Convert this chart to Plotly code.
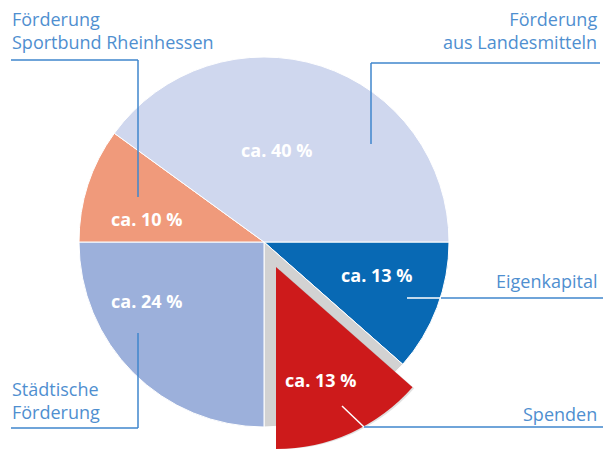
import plotly.graph_objects as go

# ---- data ----
categories = ["Eigenkapital", "Spenden", "Städtische Förderung",
              "Förderung Sportbund Rheinhessen", "Förderung aus Landesmitteln"]
shares = [11.5, 13.5, 25, 10, 40]          # slice sizes (%)
pct_labels = ["ca. 13 %", "ca. 13 %", "ca. 24 %", "ca. 10 %", "ca. 40 %"]
slice_colors = ["#0869b4", "#cd1a1b", "#9cb0db", "#f09a7b", "#cfd7ee"]

W, H = 603, 449
LINE = "#3f86cc"
TXT = "#4f8fd0"


def px(x):
    return x / W


def py(y):
    return 1 - y / H


def box(cx, cy, r):
    return dict(x=[px(cx - r), px(cx + r)], y=[py(cy + r), py(cy - r)])


fig = go.Figure()

# base pie (exploded slice left behind as a grey recess)
base_colors = list(slice_colors)
base_colors[1] = "#d2d2d2"
fig.add_trace(go.Pie(
    labels=categories, values=shares, sort=False, direction="clockwise",
    rotation=90, domain=box(264, 242, 185),
    marker=dict(colors=base_colors, line=dict(color="white", width=1)),
    textinfo="none", hoverinfo="label", showlegend=False,
))

# soft shadow of the exploded slice
shadow_colors = ["rgba(0,0,0,0)"] * 5
shadow_colors[1] = "rgba(120,120,120,0.22)"
fig.add_trace(go.Pie(
    labels=categories, values=shares, sort=False, direction="clockwise",
    rotation=90, domain=box(280, 270, 179),
    marker=dict(colors=shadow_colors, line=dict(width=0)),
    textinfo="none", hoverinfo="skip", showlegend=False,
))

# exploded slice
top_colors = ["rgba(0,0,0,0)"] * 5
top_colors[1] = slice_colors[1]
fig.add_trace(go.Pie(
    labels=categories, values=shares, sort=False, direction="clockwise",
    rotation=90, domain=box(276, 267, 182),
    marker=dict(colors=top_colors, line=dict(width=0)),
    textinfo="none", hoverinfo="skip", showlegend=False,
))

# ---- leader lines ----
shapes = []


def seg(x0, y0, x1, y1, color=LINE, w=1.5):
    shapes.append(dict(type="line", xref="paper", yref="paper",
                       x0=px(x0), y0=py(y0), x1=px(x1), y1=py(y1),
                       line=dict(color=color, width=w)))


# Sportbund
seg(11, 60, 138, 60)
seg(138, 60, 138, 197)
# Landesmittel
seg(371, 63, 600, 63)
seg(371, 63, 371, 144)
# Eigenkapital
seg(407, 298, 441, 298, color="white")
seg(441, 298, 603, 298)
# Spenden
seg(342, 406, 364, 427, color="white")
seg(364, 427, 603, 427)
# Städtische
seg(138, 333, 138, 428)
seg(138, 428, 11, 428)

# ---- annotations ----
ann = []
lab_font = dict(family="Open Sans", size=18, color=TXT)
ann.append(dict(x=px(10), y=py(31), text="Förderung<br>Sportbund Rheinhessen",
                xanchor="left", yanchor="middle", align="left"))
ann.append(dict(x=px(599), y=py(31), text="Förderung<br>aus Landesmitteln",
                xanchor="right", yanchor="middle", align="right"))
ann.append(dict(x=px(599), y=py(281), text="Eigenkapital",
                xanchor="right", yanchor="middle", align="right"))
ann.append(dict(x=px(599), y=py(414), text="Spenden",
                xanchor="right", yanchor="middle", align="right"))
ann.append(dict(x=px(10), y=py(400), text="Städtische<br>Förderung",
                xanchor="left", yanchor="middle", align="left"))
for a in ann:
    a.update(xref="paper", yref="paper", showarrow=False, font=lab_font)

pct_pos = [(376, 275), (320, 380), (146, 301), (146, 219), (276, 150)]
pct_font = dict(family="Open Sans", size=18, color="white", weight="bold")
for (x, y), t in zip(pct_pos, pct_labels):
    ann.append(dict(x=px(x), y=py(y), text=t, xref="paper", yref="paper",
                    showarrow=False, font=pct_font,
                    xanchor="center", yanchor="middle"))

fig.update_layout(
    width=W, height=H, margin=dict(l=0, r=0, t=0, b=0),
    paper_bgcolor="white", plot_bgcolor="white",
    shapes=shapes, annotations=ann, showlegend=False,
)

fig.write_html("out.html",
               config={"displayModeBar": False},
               post_script="document.body.style.margin='0px';"
                           "document.body.style.overflow='hidden';")
